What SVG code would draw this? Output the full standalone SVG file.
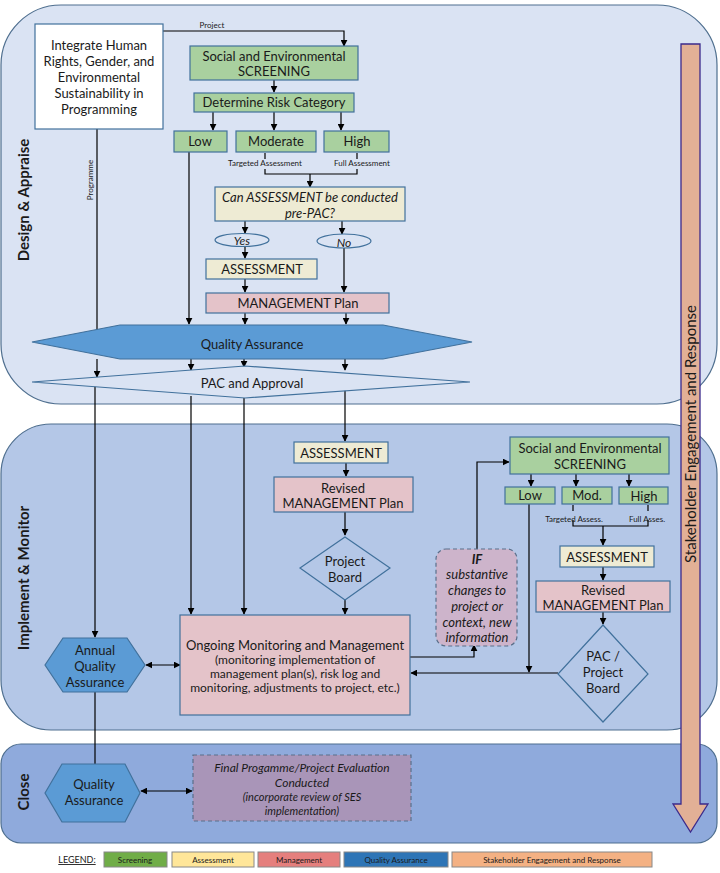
<svg xmlns="http://www.w3.org/2000/svg" width="720" height="873" viewBox="0 0 720 873">
<defs>
<marker id="ah" viewBox="0 0 10 10" refX="9" refY="5" markerWidth="7" markerHeight="7" markerUnits="userSpaceOnUse" orient="auto-start-reverse"><path d="M0,0 L10,5 L0,10 z" fill="#000"/></marker>
<style>
text{font-family:Lato,"Noto Sans",sans-serif;fill:#1a1a1a;text-anchor:middle}
.b{stroke:#41719c;stroke-width:1.2}
.g{fill:#a9d09f}.y{fill:#eeebd4}.m{fill:#e4c3c9}.q{fill:#5b9bd5}
.t13{font-size:13px}.t12{font-size:12px}.t11{font-size:11px}.tiny{font-size:8px}
.it{font-style:italic}
.c line,.c path,.c polyline{stroke:#000;stroke-width:1.2;fill:none}
.ar{marker-end:url(#ah)}
.lane{font-weight:bold;font-size:15px}
</style>
</defs>
<rect id="lane-design" x="1" y="5" width="716" height="399" rx="60" fill="#dae3f3" stroke="#4f6f8f" stroke-width="1.2"/>
<rect id="lane-implement" x="1" y="424" width="716" height="306" rx="50" fill="#b4c7e7" stroke="#4f6f8f" stroke-width="1.2"/>
<rect id="lane-close" x="1" y="744" width="716" height="99" rx="20" fill="#8faadc" stroke="#4f6f8f" stroke-width="1.2"/>
<text class="lane" transform="translate(29,200) rotate(-90)">Design &amp; Appraise</text>
<text class="lane" transform="translate(29,578) rotate(-90)">Implement &amp; Monitor</text>
<text class="lane" transform="translate(29,792) rotate(-90)">Close</text>

<g id="stakeholder">
<path d="M681,44 H700 V804 H708 L690.5,832 L673,804 H681 Z" fill="#e2b096" stroke="#3b2a8c" stroke-width="1.3"/>
<text class="t13" font-size="15" transform="translate(696,434) rotate(-90)" style="font-size:15px">Stakeholder Engagement  and Response</text>
</g>

<g class="c" id="connectors">
<polyline class="ar" points="163,31 344,31 344,46"/>
<line class="ar" x1="274" y1="80" x2="274" y2="92"/>
<line class="ar" x1="213" y1="112" x2="213" y2="130"/>
<line class="ar" x1="274" y1="112" x2="274" y2="130"/>
<line class="ar" x1="341" y1="112" x2="341" y2="130"/>
<polyline points="265,153 265,159"/><polyline points="357,153 357,159"/>
<polyline points="265,169 265,174 357,174 357,169"/>
<line class="ar" x1="310" y1="174" x2="310" y2="187"/>
<line class="ar" x1="245" y1="220" x2="245" y2="233"/>
<line class="ar" x1="342" y1="220" x2="342" y2="234"/>
<line class="ar" x1="245" y1="246" x2="245" y2="258"/>
<line class="ar" x1="245" y1="279" x2="245" y2="292"/>
<line class="ar" x1="344" y1="248" x2="344" y2="292"/>
<line class="ar" x1="189" y1="152" x2="189" y2="324"/>
<line class="ar" x1="245" y1="313" x2="245" y2="324"/>
<line class="ar" x1="346" y1="313" x2="346" y2="324"/>
<line x1="97" y1="129" x2="97" y2="330"/>
<line class="ar" x1="97" y1="359" x2="97" y2="377"/>
<line class="ar" x1="191" y1="359" x2="191" y2="370"/>
<line class="ar" x1="244" y1="359" x2="244" y2="367"/>
<line class="ar" x1="345" y1="359" x2="345" y2="370"/>
<line class="ar" x1="95" y1="384" x2="95" y2="637"/>
<line class="ar" x1="191" y1="396" x2="191" y2="614"/>
<line class="ar" x1="244" y1="398" x2="244" y2="614"/>
<line class="ar" x1="345" y1="390" x2="345" y2="441"/>
<line class="ar" x1="346" y1="463" x2="346" y2="476"/>
<line class="ar" x1="345" y1="512" x2="345" y2="535"/>
<line class="ar" x1="345" y1="600" x2="345" y2="614"/>
<line class="ar" x1="146" y1="665" x2="180" y2="665" style="marker-start:url(#ah)"/>
<polyline class="ar" points="410,657 474,657 474,645"/>
<polyline class="ar" points="477,549 477,462 509,462"/>
<line class="ar" x1="531" y1="474" x2="531" y2="486"/>
<line class="ar" x1="576" y1="474" x2="576" y2="486"/>
<line class="ar" x1="629" y1="474" x2="629" y2="486"/>
<polyline points="573,505 573,511"/><polyline points="648,505 648,511"/>
<polyline points="573,520 573,526 648,526 648,520"/>
<line class="ar" x1="603" y1="526" x2="603" y2="545"/>
<line class="ar" x1="603" y1="567" x2="603" y2="580"/>
<line class="ar" x1="603" y1="612" x2="603" y2="624"/>
<line class="ar" x1="529" y1="504" x2="529" y2="672"/>
<line class="ar" x1="558" y1="673" x2="411" y2="673"/>
<line class="ar" x1="95" y1="692" x2="95" y2="771"/>
<line class="ar" x1="141" y1="791" x2="192" y2="791" style="marker-start:url(#ah)"/>
</g>
<text class="tiny" x="212" y="28">Project</text>
<text class="tiny" transform="translate(93,180) rotate(-90)">Programme</text>
<text class="tiny" x="265" y="166">Targeted Assessment</text>
<text class="tiny" x="362" y="166">Full Assessment</text>
<text class="tiny" x="574" y="522">Targeted Assess.</text>
<text class="tiny" x="647" y="522">Full Asses.</text>

<g id="integrate"><rect x="35" y="24" width="128" height="105" fill="#fff" stroke="#41719c" stroke-width="1.2"/>
<text class="t13" x="99" y="50">Integrate Human</text><text class="t13" x="99" y="66">Rights, Gender, and</text><text class="t13" x="99" y="82">Environmental</text><text class="t13" x="99" y="98">Sustainability in</text><text class="t13" x="99" y="114">Programming</text></g>
<g id="screening1"><rect class="g b" x="190" y="46" width="168" height="34"/><text class="t13" x="274" y="61">Social and Environmental</text><text class="t13" x="274" y="76">SCREENING</text></g>
<g id="risk"><rect class="g b" x="194" y="93" width="160" height="19"/><text class="t13" x="274" y="107">Determine Risk Category</text></g>
<g id="low1"><rect class="g b" x="174" y="131" width="53" height="21"/><text class="t13" x="200" y="146">Low</text></g>
<g id="mod1"><rect class="g b" x="236" y="131" width="80" height="21"/><text class="t13" x="276" y="146">Moderate</text></g>
<g id="high1"><rect class="g b" x="324" y="131" width="65" height="21"/><text class="t13" x="357" y="146">High</text></g>
<g id="question"><rect class="y b" x="215" y="187" width="190" height="34"/><text class="t13 it" x="310" y="202">Can ASSESSMENT be conducted</text><text class="t13 it" x="310" y="218">pre-PAC?</text></g>
<g id="yes"><ellipse class="b" cx="242" cy="240" rx="27" ry="6.5" fill="#dae3f3"/><text class="t12 it" x="242" y="245">Yes</text></g>
<g id="no"><ellipse class="b" cx="344" cy="241" rx="27" ry="7" fill="#dae3f3"/><text class="t12 it" x="344" y="247">No</text></g>
<g id="assess1"><rect class="y b" x="206" y="259" width="111" height="20"/><text class="t13" x="262" y="274">ASSESSMENT</text></g>
<g id="mplan1"><rect class="m b" x="206" y="293" width="183" height="20"/><text class="t13" x="298" y="308">MANAGEMENT Plan</text></g>
<g id="qa1"><polygon class="q b" points="32,342 120,325 383,325 472,342 383,359 120,359"/><text class="t13" x="252" y="349">Quality Assurance</text></g>
<g id="pac"><polygon fill="#dae3f3" class="b" points="32,382 245,366 470,382 245,398"/><text class="t13" x="252" y="388">PAC and Approval</text></g>

<g id="assess2"><rect class="y b" x="294" y="442" width="94" height="21"/><text class="t13" x="341" y="458">ASSESSMENT</text></g>
<g id="mplan2"><rect class="m b" x="274" y="477" width="139" height="35"/><text class="t13" x="343" y="493">Revised</text><text class="t13" x="343" y="508">MANAGEMENT Plan</text></g>
<g id="board"><polygon fill="#b4c7e7" class="b" points="345,537 390,568 345,600 300,568"/><text class="t13" x="345" y="566">Project</text><text class="t13" x="345" y="582">Board</text></g>
<g id="ongoing"><rect class="m b" x="180" y="615" width="230" height="100"/><text class="t13" x="295" y="650">Ongoing Monitoring and Management</text><text class="t12" x="295" y="664">(monitoring implementation of</text><text class="t12" x="295" y="678">management plan(s), risk log and</text><text class="t12" x="295" y="692">monitoring, adjustments to project, etc.)</text></g>
<g id="annualqa"><polygon class="q b" points="45,665 63,638 127,638 145,665 127,692 63,692"/><text class="t13" x="95" y="655">Annual</text><text class="t13" x="95" y="671">Quality</text><text class="t13" x="95" y="687">Assurance</text></g>
<g id="iftext"><rect x="436" y="549" width="81" height="97" rx="10" fill="#cdb4cb" stroke="#5a6f8a" stroke-width="1.2" stroke-dasharray="4,3"/>
<text class="t13 it" x="477" y="564" font-weight="bold">IF</text><text class="t13 it" x="477" y="579">substantive</text><text class="t13 it" x="477" y="595">changes to</text><text class="t13 it" x="477" y="611">project or</text><text class="t13 it" x="477" y="627">context, new</text><text class="t13 it" x="477" y="642">information</text></g>
<g id="screening2"><rect class="g b" x="510" y="437" width="159" height="37"/><text class="t13" x="590" y="453">Social and Environmental</text><text class="t13" x="590" y="469">SCREENING</text></g>
<g id="low2"><rect class="g b" x="505" y="487" width="50" height="17"/><text class="t13" x="530" y="500">Low</text></g>
<g id="mod2"><rect class="g b" x="562" y="487" width="50" height="17"/><text class="t13" x="587" y="500">Mod.</text></g>
<g id="high2"><rect class="g b" x="619" y="487" width="49" height="17"/><text class="t13" x="644" y="501">High</text></g>
<g id="assess3"><rect class="y b" x="560" y="546" width="94" height="21"/><text class="t13" x="607" y="562">ASSESSMENT</text></g>
<g id="mplan3"><rect class="m b" x="536" y="581" width="134" height="31"/><text class="t13" x="603" y="595">Revised</text><text class="t13" x="603" y="610">MANAGEMENT Plan</text></g>
<g id="pacboard"><polygon fill="#b4c7e7" class="b" points="603,625 648,674 603,722 558,674"/><text class="t13" x="603" y="661">PAC /</text><text class="t13" x="603" y="677">Project</text><text class="t13" x="603" y="693">Board</text></g>

<g id="qa3"><polygon class="q b" points="45,793 62,764 125,764 140,793 125,822 62,822"/><text class="t13" x="94" y="789">Quality</text><text class="t13" x="94" y="805">Assurance</text></g>
<g id="final"><rect x="193" y="755" width="218" height="66" fill="#a995b8" stroke="#5a6f8a" stroke-width="1.2" stroke-dasharray="4,3"/>
<text class="t12 it" x="302" y="772">Final Progamme/Project Evaluation</text><text class="t12 it" x="302" y="787">Conducted</text><text class="t11 it" x="302" y="801">(incorporate review of SES</text><text class="t11 it" x="302" y="815">implementation)</text></g>

<g id="legend">
<text class="tiny" x="77" y="863" style="font-size:9px;text-decoration:underline">LEGEND:</text>
<rect x="104" y="852" width="63" height="15" fill="#70ad47" stroke="#888"/><text class="tiny" x="135" y="863">Screening</text>
<rect x="172" y="852" width="82" height="15" fill="#ffe699" stroke="#888"/><text class="tiny" x="213" y="863">Assessment</text>
<rect x="258" y="852" width="82" height="15" fill="#e57f7d" stroke="#888"/><text class="tiny" x="299" y="863">Management</text>
<rect x="344" y="852" width="104" height="15" fill="#2e75b6" stroke="#888"/><text class="tiny" x="396" y="863">Quality Assurance</text>
<rect x="452" y="852" width="200" height="15" fill="#f4b183" stroke="#888"/><text class="tiny" x="552" y="863">Stakeholder Engagement and Response</text>
</g>
</svg>
